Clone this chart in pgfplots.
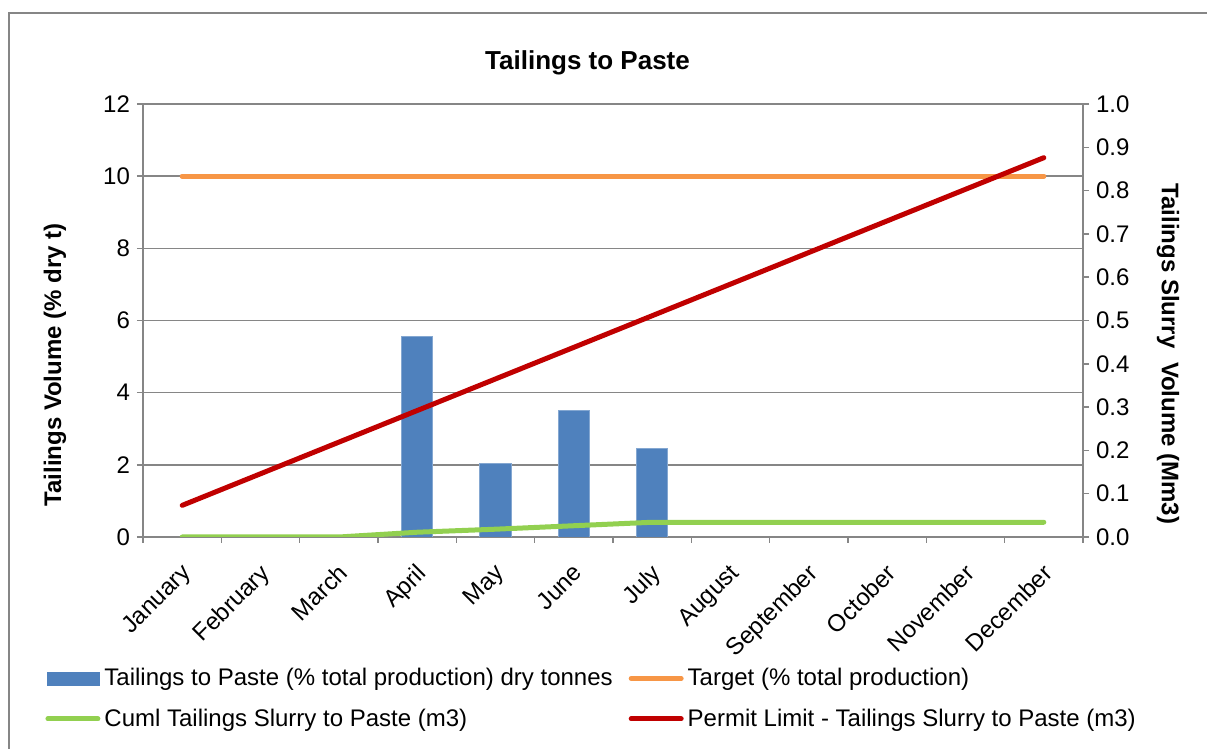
\documentclass[border=0pt]{standalone}
\usepackage{pgfplots}
\pgfplotsset{compat=1.18}
\usepackage{fontspec}
\setmainfont{Liberation Sans}

\definecolor{barblue}{RGB}{79,129,189}
\definecolor{targetorange}{RGB}{247,150,70}
\definecolor{cumlgreen}{RGB}{146,208,80}
\definecolor{permitred}{RGB}{192,0,0}
\definecolor{axisgray}{RGB}{134,134,134}

\pgfplotsset{
  base/.style={
    scale only axis,
    width=470pt, height=216.5pt,
    at={(71.5pt,106pt)}, anchor=south west,
    xmin=-0.5, xmax=11.5,
    tick align=outside,
    major tick length=3pt,
    tick style={draw=axisgray, line width=0.75pt},
    axis line style={draw=axisgray, line width=0.75pt},
    ticklabel style={font=\fontsize{12}{14}\selectfont},
    /pgf/number format/assume math mode=true,
  },
}

\begin{document}
\begin{tikzpicture}
\useasboundingbox (0,0) rectangle (603.5pt,374.5pt);
% chart frame
\draw[axisgray, line width=0.75pt] (4.5pt,-2pt) -- (4.5pt,368pt) -- (610pt,368pt);

% left axis: monthly share of production and target
\begin{axis}[
  base,
  axis y line*=left,
  axis x line*=bottom,
  ymin=0, ymax=12,
  ytick={0,2,...,12},
  ymajorgrids,
  grid style={draw=axisgray, line width=0.75pt},
  xtick={0,...,11},
  xticklabels={January,February,March,April,May,June,July,August,September,October,November,December},
  xtick style={draw=none},
  xticklabel style={rotate=45, anchor=north east, inner sep=1pt, xshift=-6.5pt, yshift=-5pt},
  extra x ticks={-0.5,0.5,...,11.5},
  extra x tick labels={},
  extra x tick style={xtick style={draw=axisgray}, grid=none},
]
\addplot[ybar, bar width=0.4, fill=barblue, draw=barblue!70!white, line width=0.4pt]
  coordinates {(3,5.55) (4,2.05) (5,3.50) (6,2.45)};
\addplot[targetorange, line width=2.5pt, line cap=round]
  coordinates {(0,10) (1,10) (2,10) (3,10) (4,10) (5,10) (6,10) (7,10) (8,10) (9,10) (10,10) (11,10)};
\end{axis}

% right axis: slurry volumes
\begin{axis}[
  base,
  axis y line*=right,
  axis x line=none,
  ymin=0, ymax=1,
  ytick={0,0.1,...,1.0},
  yticklabel={\pgfmathprintnumber[fixed, fixed zerofill, precision=1]{\tick}},
  legend columns=2,
  legend cell align=left,
  legend style={
    at={(-0.1106,-0.2885)}, anchor=north west,
    draw=none, fill=none,
    font=\fontsize{12}{14}\selectfont,
    column sep=0pt,
    row sep=8pt,
    /tikz/column 2/.style={column sep=6pt},
    nodes={inner xsep=2pt, inner ysep=1pt},
  },
]
\addlegendimage{legend image code/.code={\fill[barblue] (0pt,-3.3pt) rectangle (26pt,3.3pt);}}
\addlegendentry{Tailings to Paste (\% total production) dry tonnes}
\addlegendimage{legend image code/.code={\draw[targetorange, line width=2.5pt, line cap=round] (0.5pt,0pt) -- (25.5pt,0pt);}}
\addlegendentry{Target (\% total production)}
\addplot[cumlgreen, line width=2.5pt, line cap=round, line join=round,
  legend image code/.code={\draw[cumlgreen, line width=2.5pt, line cap=round] (0.5pt,0pt) -- (25.5pt,0pt);}]
  coordinates {(0,0) (1,0) (2,0) (3,0.011) (4,0.018) (5,0.026) (6,0.034) (7,0.034) (8,0.034) (9,0.034) (10,0.034) (11,0.034)};
\addlegendentry{Cuml Tailings Slurry to Paste (m3)}
\addplot[permitred, line width=2.5pt, line cap=round, line join=round,
  legend image code/.code={\draw[permitred, line width=2.5pt, line cap=round] (0.5pt,0pt) -- (25.5pt,0pt);}]
  coordinates {(0,0.073) (1,0.146) (2,0.219) (3,0.292) (4,0.365) (5,0.438) (6,0.511) (7,0.584) (8,0.657) (9,0.730) (10,0.803) (11,0.876)};
\addlegendentry{Permit Limit - Tailings Slurry to Paste (m3)}
\end{axis}

% titles
\node[font=\bfseries\fontsize{13}{15}\selectfont] at (293.75pt,343pt) {Tailings to Paste};
\node[font=\bfseries\fontsize{12}{14}\selectfont, rotate=90] at (27.5pt,192pt) {Tailings Volume (\% dry t)};
\node[font=\bfseries\fontsize{12}{14}\selectfont, rotate=-90] at (584pt,197.5pt) {Tailings Slurry\ \ Volume (Mm3)};
\end{tikzpicture}
\end{document}
